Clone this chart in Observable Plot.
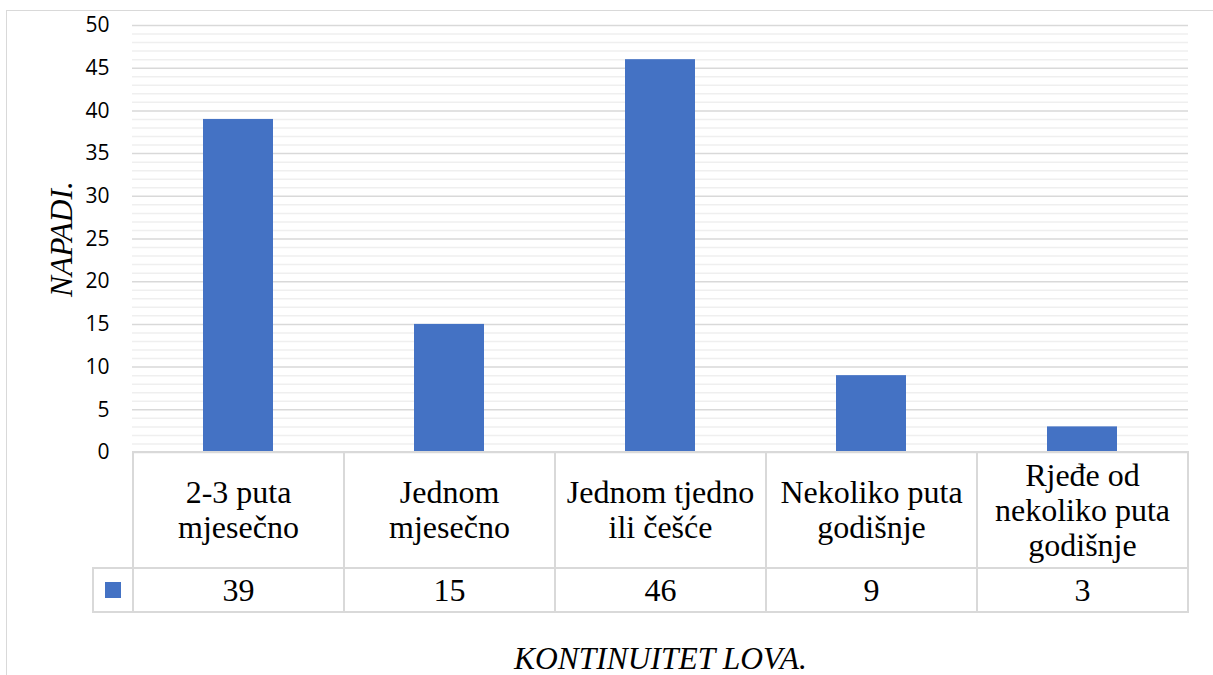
<!DOCTYPE html>
<html>
<head>
<meta charset="utf-8">
<script src="https://cdn.jsdelivr.net/npm/d3@7"></script>
<script src="https://cdn.jsdelivr.net/npm/@observablehq/plot@0.6"></script>
<style>
  html, body { margin: 0; padding: 0; background: #fff; }
  #wrap { position: relative; width: 1213px; height: 675px; overflow: hidden; background: #fff; }
  #frame { position: absolute; left: 6px; top: 10px; width: 1240px; height: 720px; border: 1.5px solid #d9d9d9; box-sizing: border-box; }
  #chart { position: absolute; left: 0; top: 0; width: 1213px; height: 675px; }
  .cell { position: absolute; box-sizing: border-box; display: flex; align-items: center; justify-content: center;
          text-align: center; white-space: pre-line; font-family: "Liberation Serif", "Times New Roman", serif;
          font-size: 32px; line-height: 35px; color: #000; }
  .hline, .vline { position: absolute; background: #d9d9d9; }
  .title { position: absolute; font-family: "Liberation Serif", "Times New Roman", serif; font-style: italic; font-size: 31.5px; color: #000; white-space: nowrap; }
</style>
</head>
<body>
<div id="wrap">
  <div id="frame"></div>
  <div id="chart"></div>
</div>
<script>
const categories = ["2-3 puta\nmjesečno", "Jednom\nmjesečno", "Jednom tjedno\nili češće", "Nekoliko puta\ngodišnje", "Rjeđe od\nnekoliko puta\ngodišnje"];
const values = [39, 15, 46, 9, 3];
const yTicks = [0, 5, 10, 15, 20, 25, 30, 35, 40, 45, 50];
const minorTicks = d3.range(0, 51, 1);
const yTitle = "NAPADI.";
const xTitle = "KONTINUITET LOVA.";
const barColor = "#4472C4";

const data = categories.map((c, i) => ({cat: c, value: values[i]}));

const plot = Plot.plot({
  width: 1213,
  height: 675,
  marginLeft: 132,
  marginRight: 25,
  marginTop: 25,
  marginBottom: 223,
  style: {fontFamily: "'Open Sans', sans-serif", fontSize: "21px", color: "#000", background: "transparent"},
  x: {domain: categories, padding: 0, axis: null},
  y: {domain: [0, 50]},
  marks: [
    Plot.ruleY(minorTicks.filter(d => d % 5 !== 0), {stroke: "#efefef", strokeWidth: 1.5}),
    Plot.ruleY(yTicks, {stroke: "#d9d9d9", strokeWidth: 1.5}),
    Plot.barY(data, {x: "cat", y: "value", fill: barColor, insetLeft: 70, insetRight: 71}),
    Plot.axisY({ticks: yTicks, tickSize: 0, tickPadding: 23, label: null, fill: "#000", fontSize: 21})
  ]
});
plot.style.position = "absolute";
plot.style.left = "0px";
plot.style.top = "0px";
plot.style.maxWidth = "none";
plot.style.width = "1213px";
plot.style.height = "675px";
document.getElementById("chart").appendChild(plot);

const wrap = document.getElementById("wrap");
const xs = plot.scale("x");
const ys = plot.scale("y");
const bw = xs.bandwidth;
const left = xs.apply(categories[0]);
const right = xs.apply(categories[categories.length - 1]) + bw;
const top0 = ys.apply(0);
const row1H = 116, row2H = 44;
const rowTop2 = top0 + row1H;
const bottom = rowTop2 + row2H;
const legendW = 40;
const lw = 2;

function add(cls, x, y, w, h, text) {
  const d = document.createElement("div");
  d.className = cls;
  d.style.left = x + "px"; d.style.top = y + "px";
  if (w != null) d.style.width = w + "px";
  if (h != null) d.style.height = h + "px";
  if (text != null) d.textContent = text;
  wrap.appendChild(d);
  return d;
}

categories.forEach((c, i) => {
  const x0 = xs.apply(c);
  add("cell", x0, top0, bw, row1H, c);
  add("cell", x0, rowTop2, bw, row2H, String(values[i]));
});
// legend key
const key = add("hline", left - legendW / 2 - 8, rowTop2 + row2H / 2 - 8, 16, 16);
key.style.background = barColor;

// horizontal lines
add("hline", left - lw / 2, top0 - lw / 2, right - left + lw, lw);
add("hline", left - legendW - lw / 2, rowTop2 - lw / 2, right - left + legendW + lw, lw);
add("hline", left - legendW - lw / 2, bottom - lw / 2, right - left + legendW + lw, lw);
// vertical lines
categories.forEach(c => add("vline", xs.apply(c) - lw / 2, top0 - lw / 2, lw, bottom - top0 + lw));
add("vline", right - lw / 2, top0 - lw / 2, lw, bottom - top0 + lw);
add("vline", left - legendW - lw / 2, rowTop2 - lw / 2, lw, row2H + lw);

// axis titles
const yt = add("title", 62, (ys.apply(50) + top0) / 2, null, null, yTitle);
yt.style.transform = "translate(-50%, -50%) rotate(-90deg)";

const xt = add("title", (left + right) / 2, 659, null, null, xTitle);
xt.style.transform = "translate(-50%, -50%)";
</script>
</body>
</html>
